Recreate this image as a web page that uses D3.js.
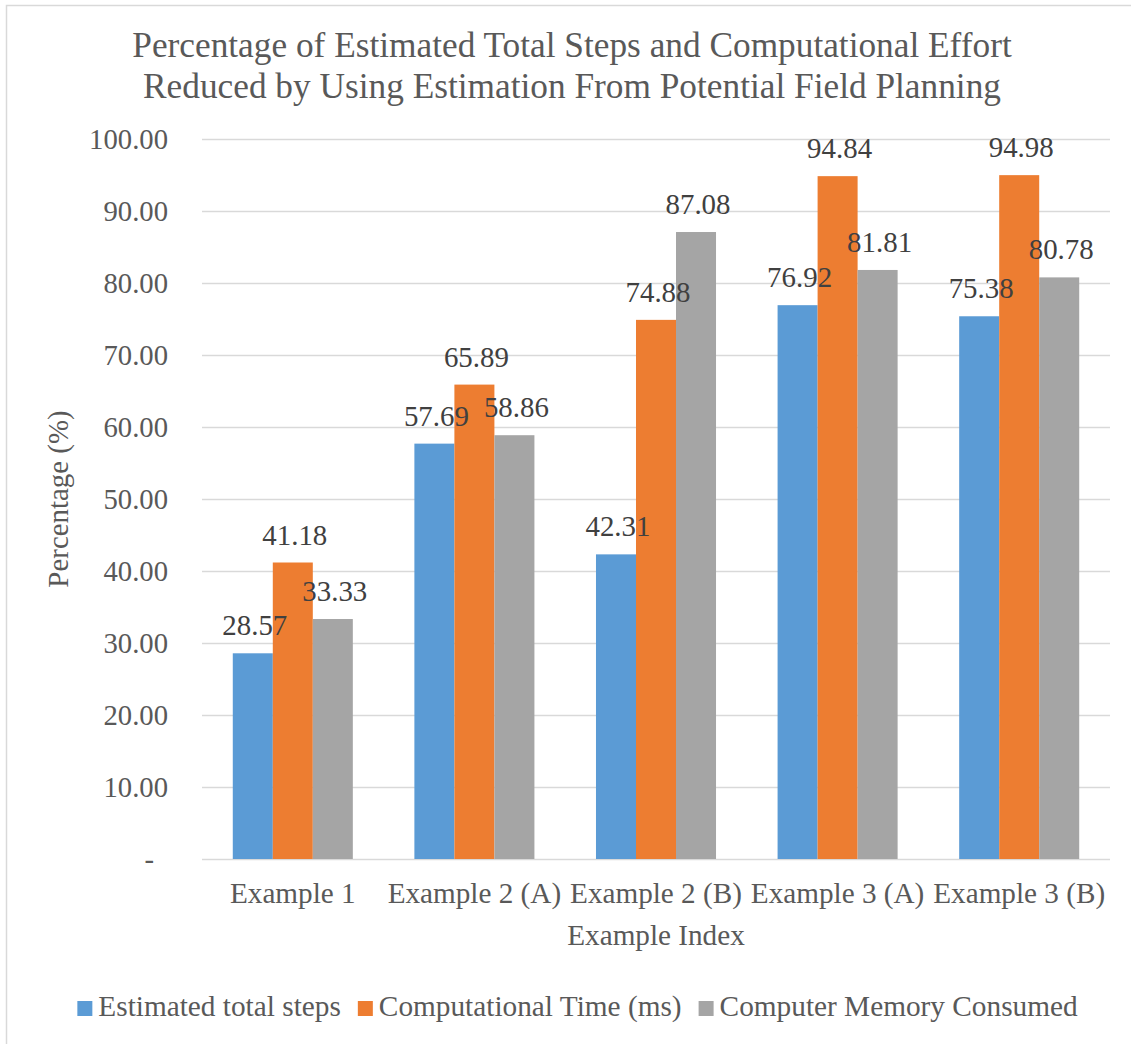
<!DOCTYPE html>
<html>
<head>
<meta charset="utf-8">
<script src="https://cdn.jsdelivr.net/npm/d3@7"></script>
<style>
  html, body { margin: 0; padding: 0; background: #fff; }
  text { font-family: "Liberation Serif", "Times New Roman", serif; }
</style>
</head>
<body>
<div id="chart"></div>
<script>
const categories = ["Example 1", "Example 2 (A)", "Example 2 (B)", "Example 3 (A)", "Example 3 (B)"];
const seriesNames = ["Estimated total steps", "Computational Time (ms)", "Computer Memory Consumed"];
const estimatedSteps = [28.57, 57.69, 42.31, 76.92, 75.38];
const computationalTime = [41.18, 65.89, 74.88, 94.84, 94.98];
const memoryConsumed = [33.33, 58.86, 87.08, 81.81, 80.78];
const yTicks = [0, 10, 20, 30, 40, 50, 60, 70, 80, 90, 100];
const yTickLabels = ["-", "10.00", "20.00", "30.00", "40.00", "50.00", "60.00", "70.00", "80.00", "90.00", "100.00"];
const titleLines = ["Percentage of Estimated Total Steps and Computational Effort",
                    "Reduced by Using Estimation From Potential Field Planning"];
const xTitle = "Example Index";
const yTitle = "Percentage (%)";
const colors = ["#5B9BD5", "#ED7D31", "#A5A5A5"];

const seriesValues = [estimatedSteps, computationalTime, memoryConsumed];
const data = categories.map((c, i) => ({
  cat: c,
  vals: seriesNames.map((s, j) => ({ series: s, idx: j, value: seriesValues[j][i] }))
}));

const W = 1131, H = 1044;
const pLeft = 202, pRight = 1110, pTop = 139, pBottom = 859;

const svg = d3.select("#chart").append("svg").attr("width", W).attr("height", H);

// outer chart border
svg.append("rect").attr("x", 6.5).attr("y", 5.5).attr("width", W + 20).attr("height", H + 20)
  .attr("fill", "#fff").attr("stroke", "#D9D9D9").attr("stroke-width", 1.5);

const y = d3.scaleLinear().domain([0, 100]).range([pBottom, pTop]);
const x0 = d3.scaleBand().domain(categories).range([pLeft, pRight]).padding(0);
const groupW = x0.bandwidth() * 0.661;
const x1 = d3.scaleBand().domain(seriesNames).range([0, groupW]).padding(0);
const groupOff = (x0.bandwidth() - groupW) / 2;

// gridlines
svg.append("g").selectAll("line").data(yTicks).join("line")
  .attr("x1", pLeft).attr("x2", pRight)
  .attr("y1", d => y(d) + 0.5).attr("y2", d => y(d) + 0.5)
  .attr("stroke", "#D9D9D9").attr("stroke-width", 1.5);

// y tick labels
svg.append("g").selectAll("text").data(yTicks).join("text")
  .attr("x", (d, i) => yTickLabels[i] === "-" ? 154 : 168)
  .attr("y", d => y(d) + 10)
  .attr("text-anchor", "end")
  .attr("font-size", "28.7px").attr("fill", "#595959")
  .text((d, i) => yTickLabels[i]);

// bars
const groups = svg.append("g").selectAll("g").data(data).join("g")
  .attr("transform", d => `translate(${x0(d.cat) + groupOff},0)`);

groups.selectAll("rect").data(d => d.vals).join("rect")
  .attr("x", d => x1(d.series))
  .attr("y", d => y(d.value))
  .attr("width", x1.bandwidth())
  .attr("height", d => pBottom - y(d.value))
  .attr("fill", d => colors[d.idx]);

// data labels (on top of all bars)
const labelG = svg.append("g");
data.forEach(d => {
  d.vals.forEach(v => {
    labelG.append("text")
      .attr("x", x0(d.cat) + groupOff + x1(v.series) + x1.bandwidth() / 2 + 2)
      .attr("y", y(v.value) - 18)
      .attr("text-anchor", "middle")
      .attr("font-size", "28.9px").attr("fill", "#404040")
      .text(v.value.toFixed(2));
  });
});

// category labels
svg.append("g").selectAll("text").data(categories).join("text")
  .attr("x", d => x0(d) + x0.bandwidth() / 2)
  .attr("y", 903)
  .attr("text-anchor", "middle")
  .attr("font-size", "29.2px").attr("fill", "#595959")
  .text(d => d);

// axis titles
svg.append("text").attr("x", (pLeft + pRight) / 2).attr("y", 945)
  .attr("text-anchor", "middle").attr("font-size", "29.2px").attr("fill", "#595959")
  .text(xTitle);

svg.append("text").attr("transform", `translate(68,${(pTop + pBottom) / 2}) rotate(-90)`)
  .attr("text-anchor", "middle").attr("font-size", "28.9px").attr("fill", "#595959")
  .text(yTitle);

// title
svg.append("g").selectAll("text").data(titleLines).join("text")
  .attr("x", 572).attr("y", (d, i) => 57 + i * 41)
  .attr("text-anchor", "middle").attr("font-size", "35.3px").attr("fill", "#595959")
  .text(d => d);

// legend
const legend = svg.append("g");
const items = legend.selectAll("g").data(seriesNames).join("g");
items.append("rect").attr("width", 15).attr("height", 15).attr("y", -15)
  .attr("fill", (d, i) => colors[i]);
items.append("text").attr("x", 21).attr("y", 0)
  .attr("font-size", "29.3px").attr("fill", "#595959").text(d => d);
const widths = [];
items.each(function () {
  const w = 21 + d3.select(this).select("text").node().getComputedTextLength();
  widths.push(w);
});
const gap = 17;
const total = d3.sum(widths) + gap * (widths.length - 1);
let startX = 577.5 - total / 2;
items.attr("transform", (d, i) => {
  const tx = startX; startX += widths[i] + gap;
  return `translate(${tx},1016)`;
});
</script>
</body>
</html>
